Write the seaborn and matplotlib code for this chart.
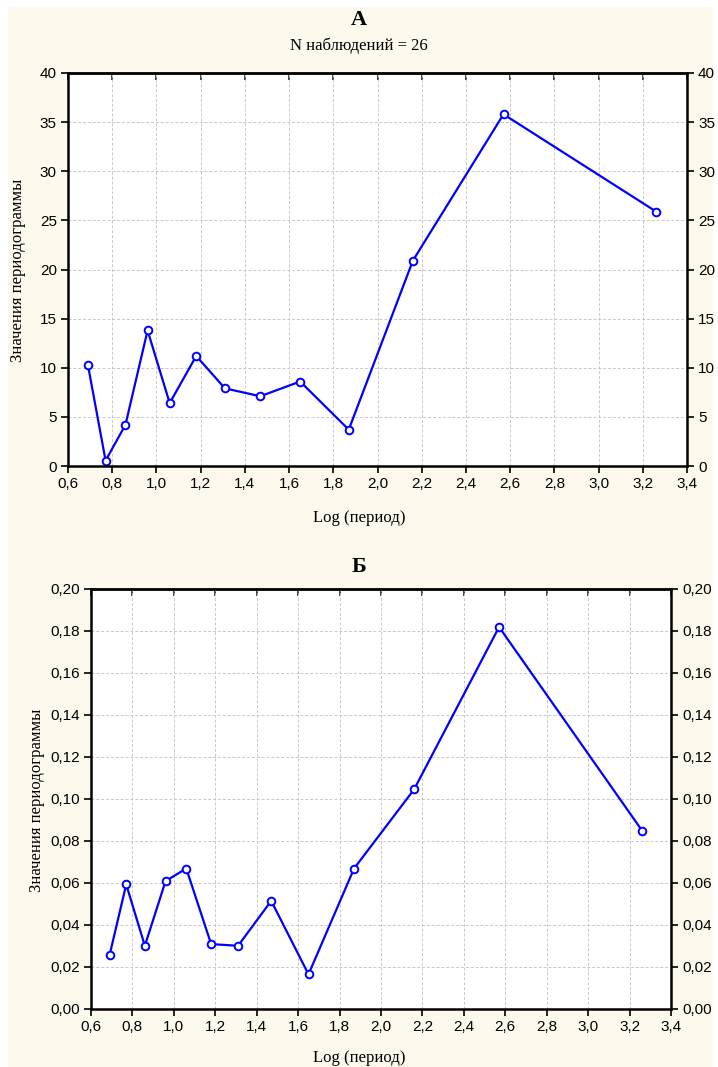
import numpy as np
import pandas as pd
import matplotlib
matplotlib.use('Agg')
import matplotlib.pyplot as plt
import seaborn as sns
from matplotlib.patches import Rectangle
from matplotlib.ticker import FuncFormatter, MultipleLocator

# periodogram data (log period vs value)
log_period = [0.69, 0.77, 0.86, 0.96, 1.06, 1.18, 1.31, 1.47, 1.65, 1.87, 2.16, 2.57, 3.26]
values_a = [10.3, 0.55, 4.2, 13.8, 6.4, 11.2, 7.9, 7.1, 8.6, 3.7, 20.9, 35.8, 25.9]
values_b = [0.0258, 0.0593, 0.0301, 0.0609, 0.0669, 0.0309, 0.0301, 0.0515, 0.0165, 0.0669, 0.1046, 0.1819, 0.0850]

n_obs = 26
x_label = 'Log (период)'
y_label = 'Значения периодограммы'

sns.set_style('white')
plt.rcParams['font.family'] = ['Liberation Sans', 'DejaVu Sans']
plt.rcParams['text.color'] = 'black'
bg = '#fdf9ec'
serif = ['Liberation Serif', 'DejaVu Serif']

W, H = 718, 1067
fig = plt.figure(figsize=(7.18, 10.67), dpi=100, facecolor='white')
# cream page area with thin white margins on top/left/right
fig.patches.append(Rectangle((8 / W, 0), (713 - 8) / W, (H - 7) / H,
                             transform=fig.transFigure, facecolor=bg,
                             edgecolor='none', zorder=-10))
ax_a = fig.add_axes([68 / W, 1 - 466 / H, (687 - 68) / W, (466 - 73) / H])
ax_b = fig.add_axes([91 / W, 1 - 1009 / H, (671 - 91) / W, (1009 - 589) / H])

comma = lambda fmt: FuncFormatter(lambda v, p: (fmt % v).replace('.', ','))


def draw(ax, y, ymax, ystep, yfmt):
    df = pd.DataFrame({'x': log_period, 'y': y})
    sns.lineplot(data=df, x='x', y='y', ax=ax, color='#0000ff', lw=1.6,
                 marker='o', markersize=5.5, markerfacecolor='white',
                 markeredgecolor='#0000ff', markeredgewidth=1.4)
    ax.set_xlim(0.6, 3.4)
    ax.set_ylim(0, ymax)
    ax.xaxis.set_major_locator(MultipleLocator(0.2))
    ax.yaxis.set_major_locator(MultipleLocator(ystep))
    ax.xaxis.set_major_formatter(comma('%.1f'))
    ax.yaxis.set_major_formatter(comma(yfmt))
    ax.grid(True, color='#c8c8c8', ls=(0, (3, 2)), lw=0.7)
    for s in ax.spines.values():
        s.set_color('black')
        s.set_linewidth(1.8)
    ax.tick_params(axis='both', direction='out', length=5, width=1.2,
                   labelsize=11, colors='black', left=True, bottom=True,
                   right=True, labelright=True, pad=3)
    top = ax.secondary_xaxis('top')
    top.xaxis.set_major_locator(MultipleLocator(0.2))
    top.tick_params(direction='in', length=5, width=1.2, labeltop=False)
    top.spines['top'].set_linewidth(1.8)
    ax.set_xlabel('')
    ax.set_ylabel('')


draw(ax_a, values_a, 40, 5, '%.0f')
draw(ax_b, values_b, 0.20, 0.02, '%.2f')

fig.text(0.5, 1 - 20 / H, 'А', ha='center', va='center', fontsize=16,
         fontweight='bold', family=serif)
fig.text(0.5, 1 - 46 / H, 'N наблюдений = %d' % n_obs, ha='center', va='center',
         fontsize=12, family=serif)
fig.text(0.5, 1 - 518 / H, x_label, ha='center', va='center', fontsize=12, family=serif)
fig.text(18 / W, 1 - 270 / H, y_label, ha='center', va='center', rotation=90,
         fontsize=12, family=serif)

fig.text(0.5, 1 - 567 / H, 'Б', ha='center', va='center', fontsize=16,
         fontweight='bold', family=serif)
fig.text(0.5, 1 - 1058 / H, x_label, ha='center', va='center', fontsize=12, family=serif)
fig.text(37 / W, 1 - 800 / H, y_label, ha='center', va='center', rotation=90,
         fontsize=12, family=serif)

fig.savefig('out.png', dpi=100, facecolor='white')
